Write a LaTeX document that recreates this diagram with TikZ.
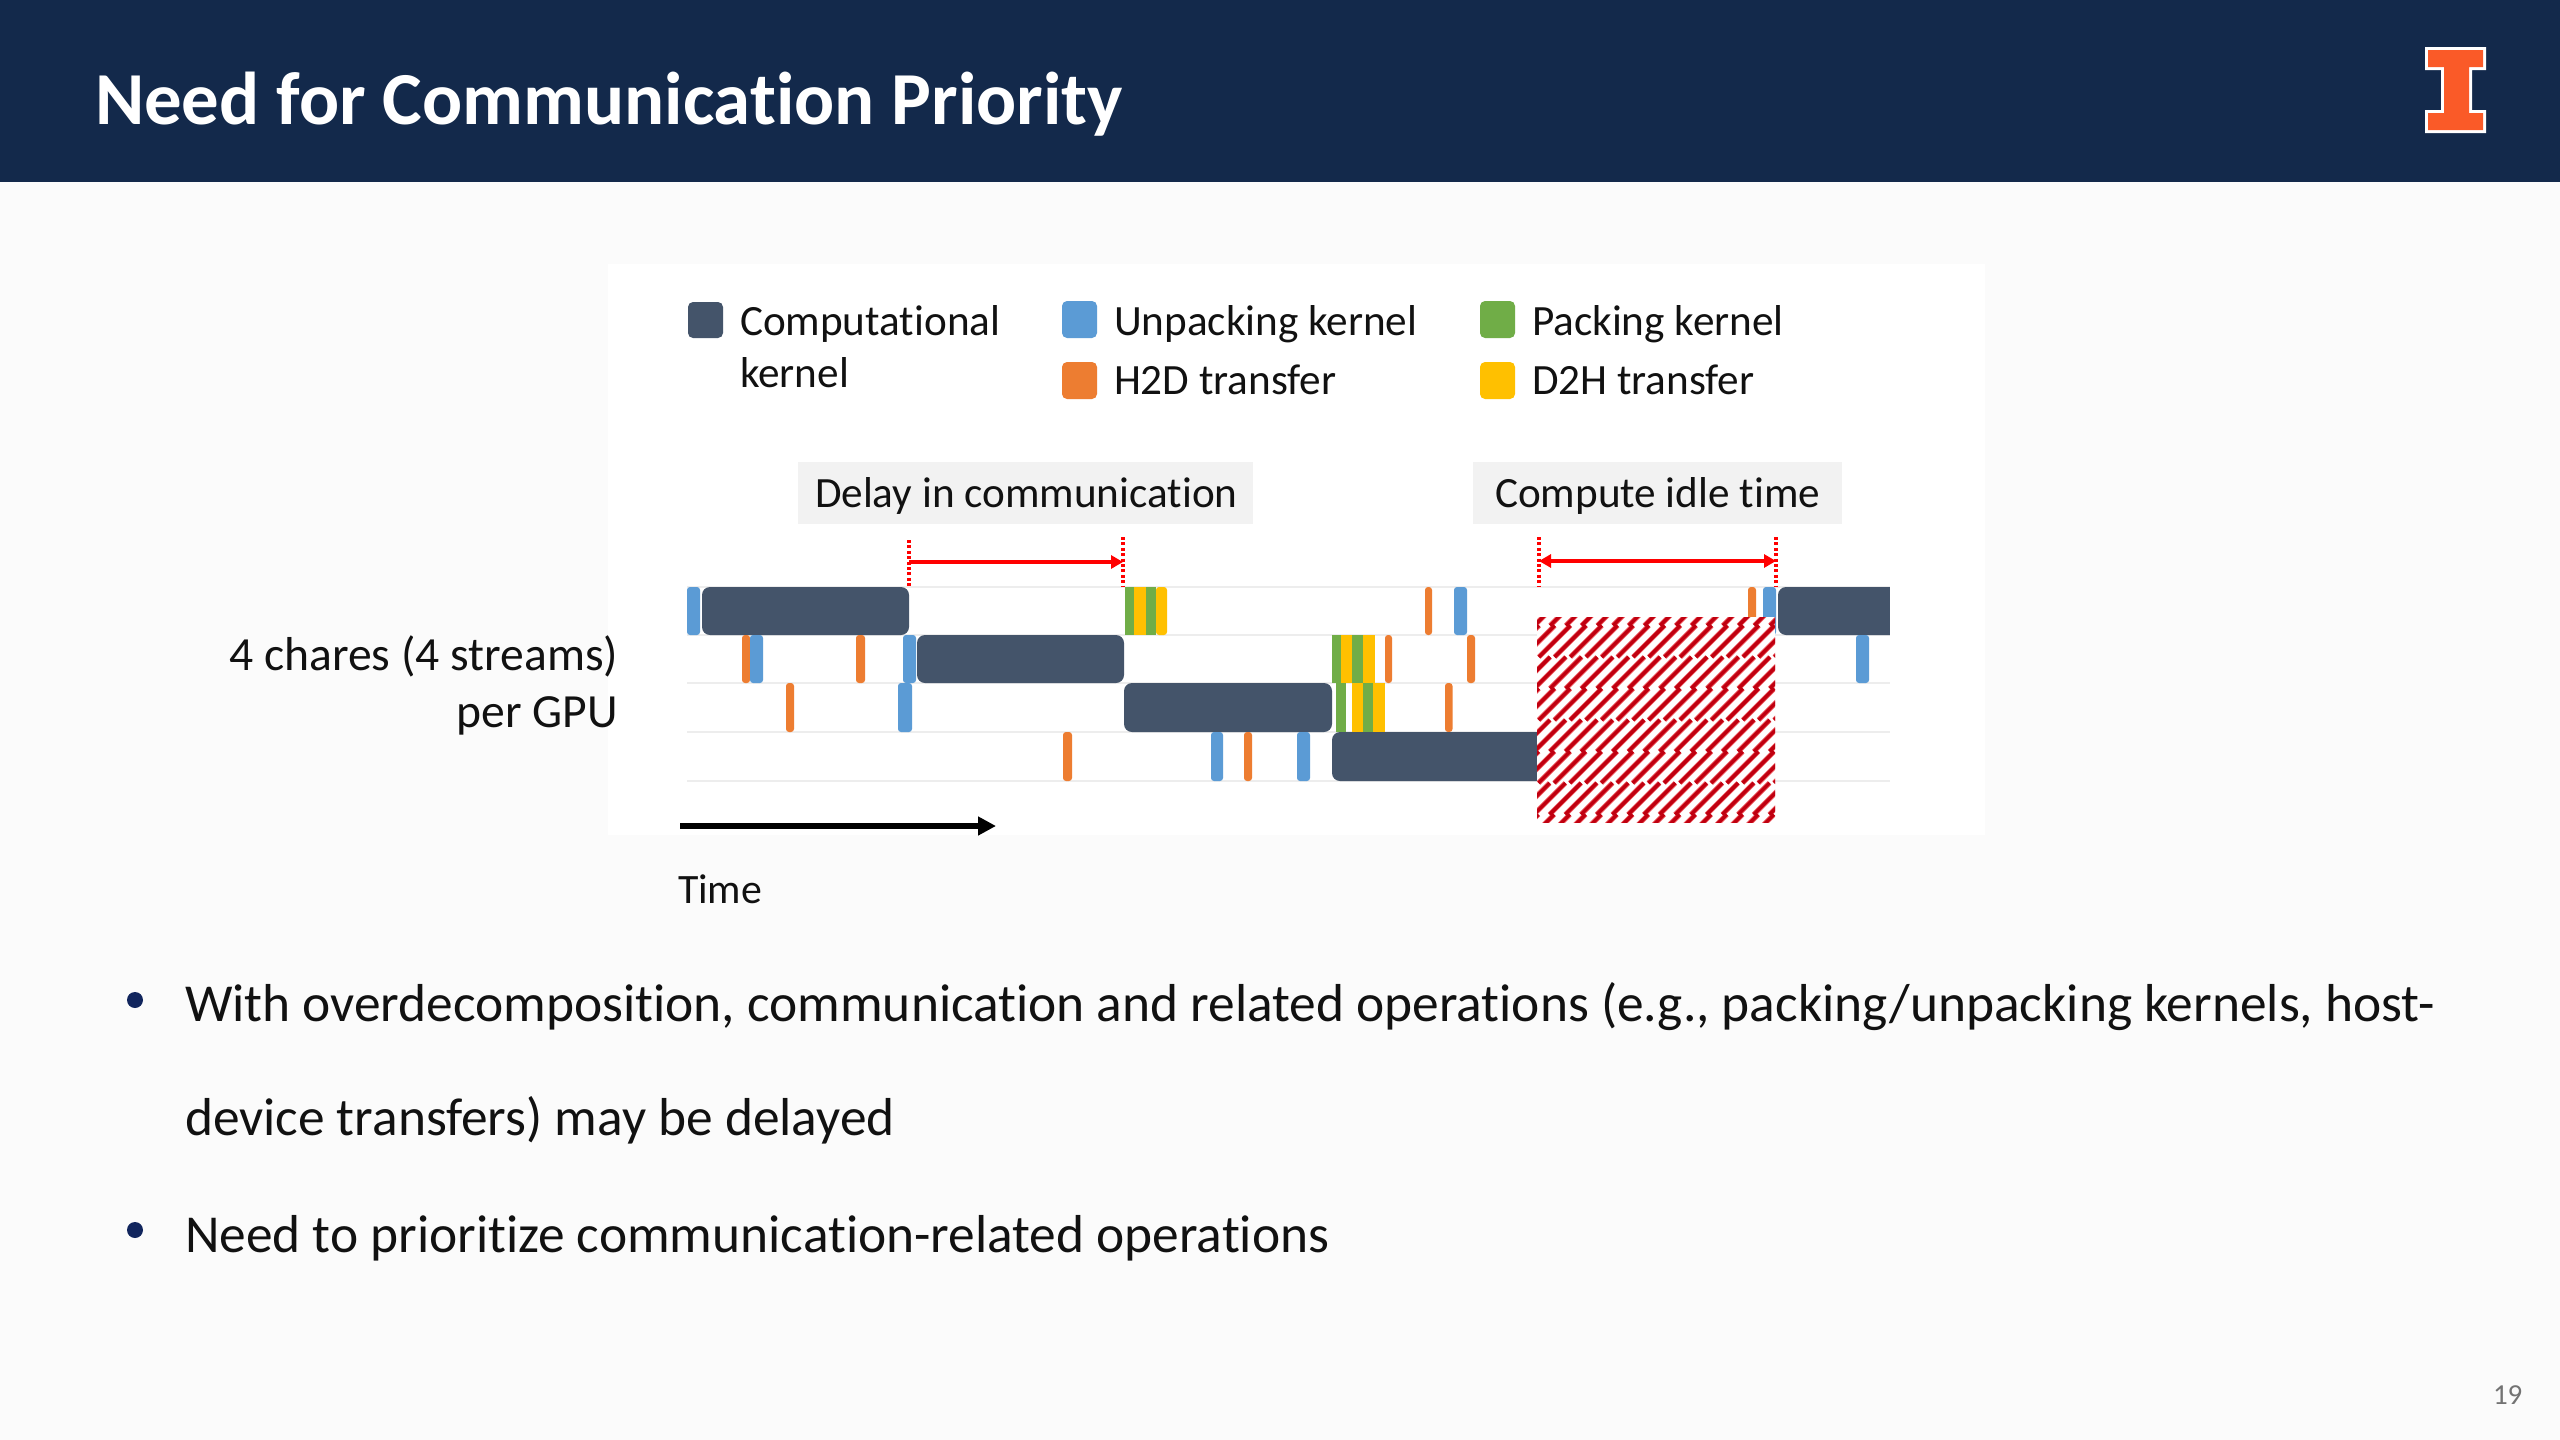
\documentclass[tikz,border=0pt]{standalone}
\usepackage{fontspec}
\setmainfont[Ligatures=NoCommon]{Carlito}
\usetikzlibrary{arrows.meta}
\definecolor{navy}{HTML}{13294B}
\definecolor{slidebg}{HTML}{FBFBFB}
\definecolor{kdark}{HTML}{44546A}
\definecolor{kblue}{HTML}{5B9BD5}
\definecolor{kgreen}{HTML}{70AD47}
\definecolor{korange}{HTML}{ED7D31}
\definecolor{kyellow}{HTML}{FFC000}
\definecolor{illini}{HTML}{FA5A28}
\definecolor{hatchred}{HTML}{C00010}
\definecolor{hatchpink}{HTML}{EE5A60}
\definecolor{labelbg}{HTML}{F2F2F2}
\definecolor{inktext}{HTML}{111111}
\newcommand{\pxfont}[1]{\fontsize{#1}{#1}\selectfont}
% x1 x2 ytop ybottom colour
\newcommand{\kbar}[5]{\fill[#5,rounded corners=1.5] (#1,#3) rectangle (#2,#4);}
\newcommand{\kflat}[5]{\fill[#5] (#1,#3) rectangle (#2,#4);}
\newcommand{\kcomp}[4]{\fill[kdark,rounded corners=4] (#1,#3) rectangle (#2,#4);}
\tikzset{
  txt/.style={inner sep=0pt,outer sep=0pt,anchor=base west,text=inktext},
  legendtxt/.style={txt,font=\pxfont{21.6}},
  bullettxt/.style={txt,font=\pxfont{26.7}},
  sidetxt/.style={txt,anchor=base east,font=\pxfont{23.8}},
  legendbox/.style={rounded corners=2.5},
  graybox/.style={fill=labelbg},
  rowline/.style={draw=black!7,line width=0.8pt},
  redarrow/.style={draw=red,line width=2pt},
  reddots/.style={draw=red,line width=1.7pt,dash pattern=on 1.5pt off 1.2pt},
  blackarrow/.style={draw=black,line width=3pt,-{Triangle[length=9pt,width=9pt]}},
  bulletdot/.style={fill=navy!90!blue,circle,inner sep=0pt,minimum size=8pt},
}
\begin{document}
\begin{tikzpicture}[x=0.5pt,y=-0.5pt]
\useasboundingbox (0,0) rectangle (2560,1440);
\fill[slidebg] (0,0) rectangle (2560,1440);
% header
\fill[navy] (0,0) rectangle (2560,182);
\node[txt,text=white,font=\bfseries\pxfont{37.4}] (title) at (95,124) {Need for Communication Priority};
% logo
\fill[white] (2425,47)--(2486,47)--(2486,70)--(2472,70)--(2472,110)--(2486,110)--(2486,133)--(2425,133)--(2425,110)--(2441,110)--(2441,70)--(2425,70)--cycle;
\fill[illini] (2428,50)--(2483,50)--(2483,67)--(2469,67)--(2469,113)--(2483,113)--(2483,130)--(2428,130)--(2428,113)--(2444,113)--(2444,67)--(2428,67)--cycle;
% panel
\fill[white] (608,264) rectangle (1985,835);
% legend
\fill[kdark,legendbox] (688,302) rectangle (723,338);
\fill[kblue,legendbox] (1062,301) rectangle (1097,338);
\fill[kgreen,legendbox] (1480,301) rectangle (1515,338);
\fill[korange,legendbox] (1062,362) rectangle (1097,399);
\fill[kyellow,legendbox] (1480,362) rectangle (1515,399);
\node[legendtxt] (lcomp) at (740,335) {Computational};
\node[legendtxt] (lcomp2) at (740,387) {kernel};
\node[legendtxt] (lunp) at (1114,335) {Unpacking kernel};
\node[legendtxt] (lpack) at (1532,335) {Packing kernel};
\node[legendtxt] (lh2d) at (1114,394) {H2D transfer};
\node[legendtxt] (ld2h) at (1532,394) {D2H transfer};
% label boxes
\fill[graybox] (798,462) rectangle (1253,524);
\fill[graybox] (1473,462) rectangle (1842,524);
\node[legendtxt] (delay) at (815,507) {Delay in communication};
\node[legendtxt] (idle) at (1495,507) {Compute idle time};
% row lines
\foreach \yy in {587,635,683,732,781} \draw[rowline] (687,\yy) -- (1890,\yy);
% row 1
\kbar{687}{700}{587}{635}{kblue}
\kcomp{702}{909}{587}{635}
\kflat{1125}{1134}{587}{635}{kgreen}
\kflat{1134}{1146}{587}{635}{kyellow}
\kflat{1146}{1156}{587}{635}{kgreen}
\kbar{1156}{1167}{587}{635}{kyellow}
\kbar{1425}{1432}{587}{635}{korange}
\kbar{1454}{1467}{587}{635}{kblue}
\kbar{1748}{1756}{587}{635}{korange}
\kbar{1763}{1776}{587}{635}{kblue}
\kcomp{1778}{1900}{587}{635}
% row 2
\kbar{742}{750}{635}{683}{korange}
\kbar{750}{763}{635}{683}{kblue}
\kbar{856}{865}{635}{683}{korange}
\kbar{903}{916}{635}{683}{kblue}
\kcomp{917}{1124}{635}{683}
\kflat{1332}{1341}{635}{683}{kgreen}
\kflat{1341}{1352}{635}{683}{kyellow}
\kflat{1352}{1362.5}{635}{683}{kgreen}
\kflat{1362.5}{1374.5}{635}{683}{kyellow}
\kbar{1385}{1392}{635}{683}{korange}
\kbar{1467}{1475}{635}{683}{korange}
\kbar{1856}{1869}{635}{683}{kblue}
% row 3
\kbar{786}{794}{683}{732}{korange}
\kbar{898}{912}{683}{732}{kblue}
\kcomp{1124}{1332}{683}{732}
\kflat{1336}{1345.5}{683}{732}{kgreen}
\kflat{1352}{1362.5}{683}{732}{kyellow}
\kflat{1362.5}{1373}{683}{732}{kgreen}
\kflat{1373}{1384.5}{683}{732}{kyellow}
\kbar{1445}{1452.5}{683}{732}{korange}
% row 4
\kbar{1063}{1072}{732}{781}{korange}
\kbar{1211}{1223}{732}{781}{kblue}
\kbar{1244}{1252}{732}{781}{korange}
\kbar{1297}{1310}{732}{781}{kblue}
\kcomp{1332}{1545}{732}{781}
% square off the right end of the last computational bar
\fill[white] (1890,580) rectangle (1905,640);
\fill[kdark] (1870,587) rectangle (1890,635);
% hatch
\fill[white] (1537,617) rectangle (1775,822);
\begin{scope}
\clip (1537,617) rectangle (1775,822);
\foreach \layer/\lcol/\lwid in {0/hatchpink/2.5pt,1/hatchred/1.7pt} {
\foreach \band in {0,...,7} {
  \pgfmathsetmacro{\ytop}{625.5+31.5*(\band-1)}
  \pgfmathsetmacro{\ybot}{\ytop+31.5}
  \pgfmathsetmacro{\hshift}{mod(\band,2)*4.5}
  \foreach \k in {12,...,44} {
    \pgfmathsetmacro{\cc}{1940.2+15.7*\k+\hshift}
    \pgfmathsetmacro{\xa}{\cc-\ytop}
    \pgfmathsetmacro{\xb}{\cc-\ybot}
    \draw[\lcol,line width=\lwid] (\xa,\ytop) -- (\xb,\ybot);
  }
}}
\end{scope}
% red arrows
\coordinate (d1t) at (909,540); \coordinate (d1b) at (909,587);
\coordinate (d2t) at (1123,537); \coordinate (d2b) at (1123,587);
\coordinate (i1t) at (1539,537); \coordinate (i1b) at (1539,587);
\coordinate (i2t) at (1776,537); \coordinate (i2b) at (1776,587);
\coordinate (da) at (909,562); \coordinate (db) at (1123,562);
\coordinate (ia) at (1539,561); \coordinate (ib) at (1776,561);
\draw[reddots] (d1t) -- (d1b);
\draw[reddots] (d2t) -- (d2b);
\draw[reddots] (i1t) -- (i1b);
\draw[reddots] (i2t) -- (i2b);
\draw[redarrow,-{Triangle[length=6pt,width=6.5pt]}] (da) -- (db);
\draw[redarrow,{Triangle[length=6pt,width=6.5pt]}-{Triangle[length=6pt,width=6.5pt]}] (ia) -- (ib);
% side text and time
\node[sidetxt] (cha) at (618,670) {4 chares (4 streams)};
\node[sidetxt] (gpu) at (618,727) {per GPU};
\coordinate (ta) at (680,826); \coordinate (tb) at (996,826);
\draw[blackarrow] (ta) -- (tb);
\node[txt,font=\pxfont{20.9}] (time) at (678,903) {Time};
% bullets
\node[bulletdot] (b1) at (135,1000) {};
\node[bulletdot] (b2) at (135,1230) {};
\node[bullettxt] (t1) at (185,1021.5) {With overdecomposition, communication and related operations (e.g., packing/unpacking kernels, host-};
\node[bullettxt] (t2) at (185,1135.5) {device transfers) may be delayed};
\node[bullettxt] (t3) at (185,1252) {Need to prioritize communication-related operations};
\node[txt,text=black!55,font=\pxfont{14.5}] (page) at (2493,1404) {19};
\end{tikzpicture}
\end{document}
